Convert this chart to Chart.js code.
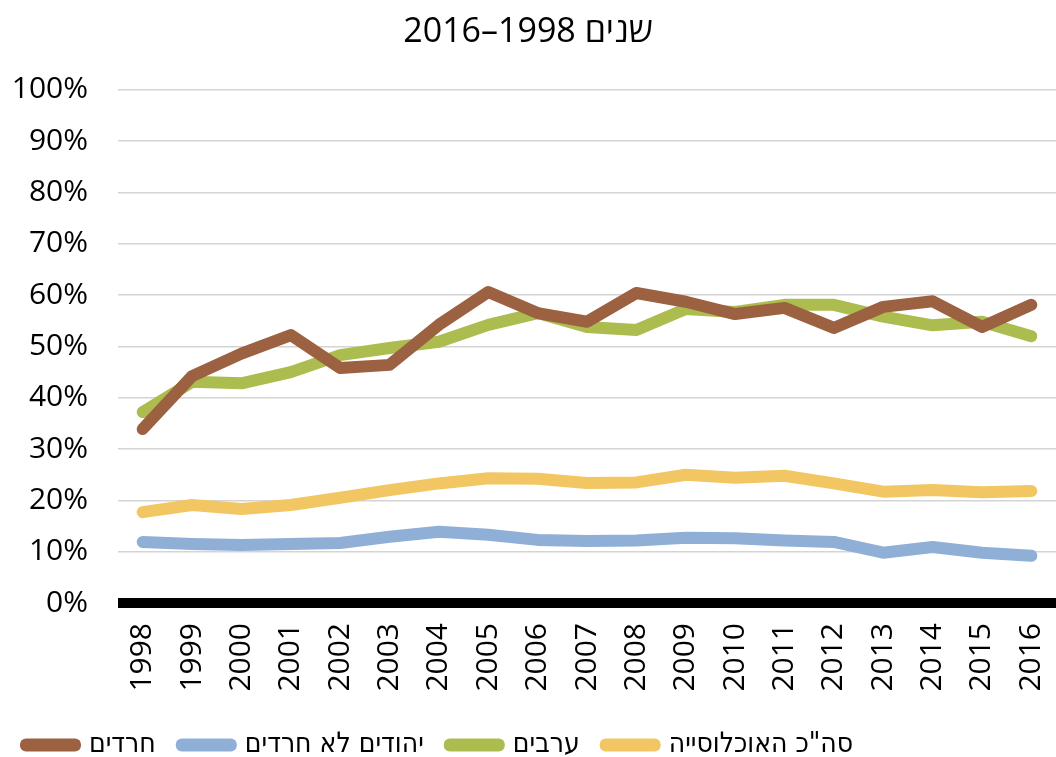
<!DOCTYPE html>
<html>
<head>
<meta charset="utf-8">
<script src="https://cdn.jsdelivr.net/npm/chart.js@4/dist/chart.umd.min.js"></script>
<style>
    html, body { margin: 0; padding: 0; background: #fff; }
    #wrap { width: 1056px; height: 757px; }
</style>
</head>
<body>
<div id="wrap"><canvas id="lineChart" dir="rtl"></canvas></div>
<script>
const years = ['1998', '1999', '2000', '2001', '2002', '2003', '2004', '2005', '2006', '2007',
    '2008', '2009', '2010', '2011', '2012', '2013', '2014', '2015', '2016'];

// share of population, percent
const haredim = [33.9, 44.2, 48.6, 52.2, 45.8, 46.4, 54.2, 60.6, 56.5, 54.8,
    60.4, 58.7, 56.3, 57.5, 53.6, 57.7, 58.8, 53.8, 58.1];
const nonHarediJews = [11.9, 11.5, 11.3, 11.5, 11.7, 12.9, 13.9, 13.3, 12.3, 12.1,
    12.2, 12.7, 12.6, 12.2, 11.9, 9.8, 10.9, 9.8, 9.2];
const arabs = [37.2, 43.1, 42.8, 45.0, 48.3, 49.7, 50.9, 54.2, 56.5, 53.8,
    53.2, 57.3, 56.7, 58.1, 58.1, 55.8, 54.1, 54.8, 52.0];
const total = [17.7, 19.1, 18.3, 19.1, 20.5, 22.0, 23.3, 24.3, 24.2, 23.4,
    23.5, 25.0, 24.4, 24.8, 23.3, 21.7, 22.0, 21.6, 21.8];

const seriesNames = ['חרדים', 'יהודים לא חרדים', 'ערבים', 'סה"כ האוכלוסייה'];
const seriesColors = ['#9c6140', '#8fafd7', '#adbc4e', '#f2c662'];
const titleText = 'שנים 1998–2016';

const tickFont = "'Open Sans', sans-serif";
const legendFont = "'DejaVu Sans Condensed', 'Liberation Sans', sans-serif";

function makeDataset(i, data) {
    return {
        label: seriesNames[i],
        data: data,
        borderColor: seriesColors[i],
        backgroundColor: seriesColors[i],
        borderWidth: 12,
        borderCapStyle: 'round',
        borderJoinStyle: 'round',
        pointRadius: 0,
        pointHoverRadius: 0,
        tension: 0
    };
}

const ctx = document.getElementById('lineChart').getContext('2d');
new Chart(ctx, {
    type: 'line',
    data: {
        labels: years,
        datasets: [
            makeDataset(0, haredim),
            makeDataset(1, nonHarediJews),
            makeDataset(2, arabs),
            makeDataset(3, total)
        ]
    },
    options: {
        responsive: true,
        maintainAspectRatio: false,
        animation: false,
        layout: { padding: { left: 0, right: 0, top: 0, bottom: -12 } },
        scales: {
            x: {
                offset: true,
                grid: { display: false, drawTicks: false },
                border: { display: false },
                ticks: {
                    color: '#000',
                    font: { family: tickFont, size: 30 },
                    minRotation: 90,
                    maxRotation: 90,
                    padding: 20,
                    autoSkip: false
                },
                afterFit: scale => {
                    scale.height = 102;
                    scale.paddingLeft = 0;
                    scale.paddingRight = 0;
                }
            },
            y: {
                min: 0,
                max: 100,
                grid: {
                    // the zero line is the thick black base
                    color: c => c.tick && c.tick.value === 0 ? '#000' : '#d4d4d4',
                    lineWidth: c => c.tick && c.tick.value === 0 ? 10 : 1.5,
                    drawTicks: false
                },
                border: { display: false },
                ticks: {
                    stepSize: 10,
                    color: '#000',
                    font: { family: tickFont, size: 30 },
                    padding: 30,
                    callback: v => v + '%'
                },
                afterFit: scale => { scale.width = 118; }
            }
        },
        plugins: {
            title: {
                display: true,
                text: titleText,
                color: '#000',
                font: { family: tickFont, size: 34, weight: 'normal' },
                padding: { top: 12, bottom: 37 }
            },
            legend: {
                position: 'bottom',
                align: 'start',
                labels: {
                    color: '#000',
                    font: { family: legendFont, size: 28 },
                    boxWidth: 49,
                    boxHeight: 1,
                    padding: 26
                }
            },
            tooltip: { enabled: false }
        }
    }
});
</script>
</body>
</html>
